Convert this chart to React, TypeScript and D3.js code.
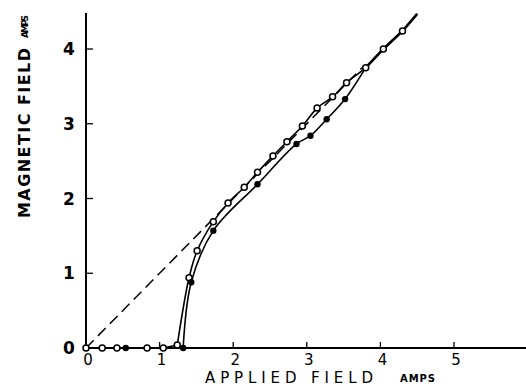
import * as d3 from "d3";

// values (applied field, magnetic field), amps
const openPts: [number, number][] = [
  [0, 0], [0.22, 0], [0.42, 0], [0.83, 0], [1.05, 0], [1.24, 0.04],
  [1.4, 0.94], [1.51, 1.3], [1.73, 1.69], [1.93, 1.94], [2.15, 2.15],
  [2.33, 2.35], [2.54, 2.57], [2.73, 2.76], [2.94, 2.97], [3.14, 3.21],
  [3.35, 3.36], [3.54, 3.55], [3.8, 3.75], [4.04, 4.0], [4.3, 4.24],
];
const openLineEnd: [number, number] = [4.5, 4.47];

const filledPts: [number, number][] = [
  [0.54, 0], [1.32, 0], [1.43, 0.88], [1.73, 1.57], [2.33, 2.19],
  [2.86, 2.73], [3.05, 2.84], [3.27, 3.06], [3.52, 3.33],
];
const filledJoin: [number, number] = [3.8, 3.75];

const dashedRef: [number, number][] = [[0, 0], [3.75, 3.75]];

const xTicks = [1, 2, 3, 4, 5];
const yTicks = [1, 2, 3, 4];

const W = 526;
const H = 388;
const FONT = "DejaVu Sans, Liberation Sans, sans-serif";

export default function App() {
  const x = d3.scaleLinear().domain([0, 5]).range([86, 454]);
  const y = d3.scaleLinear().domain([0, 4]).range([348, 49]);

  const smooth = d3
    .line<[number, number]>()
    .x((d) => x(d[0]))
    .y((d) => y(d[1]))
    .curve(d3.curveCatmullRom.alpha(0.5));
  const straight = d3
    .line<[number, number]>()
    .x((d) => x(d[0]))
    .y((d) => y(d[1]));

  const openLine = [...openPts.slice(5), openLineEnd];
  const filledLine = [...filledPts.slice(1), filledJoin];

  return (
    <svg
      width={W}
      height={H}
      style={{ position: "fixed", left: 0, top: 0, background: "#fff" }}
    >
      {/* axes */}
      <line x1={x(0)} x2={x(0)} y1={y(0)} y2={13} stroke="#000" strokeWidth={2} />
      <line x1={x(0)} x2={W} y1={y(0)} y2={y(0)} stroke="#000" strokeWidth={1.8} />
      {yTicks.map((t) => (
        <line key={"yt" + t} x1={x(0)} x2={x(0) + 7} y1={y(t)} y2={y(t)} stroke="#000" strokeWidth={1.3} />
      ))}
      {xTicks.map((t) => (
        <line key={"xt" + t} x1={x(t)} x2={x(t)} y1={y(0)} y2={y(0) - 6} stroke="#000" strokeWidth={1.3} />
      ))}

      {/* tick labels */}
      <g fontFamily={FONT} fontWeight="bold" fill="#000">
        {[0, ...yTicks].map((t) => (
          <text key={"yl" + t} x={69} y={y(t) + 6} fontSize={17} textAnchor="middle">
            {t}
          </text>
        ))}
        {[0, ...xTicks].map((t) => (
          <text key={"xl" + t} x={x(t) + 2} y={365} fontSize={15} textAnchor="middle" fontWeight="normal">
            {t}
          </text>
        ))}
      </g>

      {/* axis titles */}
      <g fontFamily={FONT} fontWeight="bold" fill="#000">
        <text x={205} y={383} fontSize={15} fontWeight="normal" textLength={168} lengthAdjust="spacing">
          APPLIED  FIELD
        </text>
        <text x={400} y={382} fontSize={10} textLength={35} lengthAdjust="spacing">
          AMPS
        </text>
        <text
          transform={`translate(30,218) rotate(-90)`}
          fontSize={16}
          textLength={170}
          lengthAdjust="spacing"
        >
          MAGNETIC  FIELD
        </text>
        <text transform={`translate(28,38) rotate(-90)`} fontSize={9} textLength={23} lengthAdjust="spacing">
          AMPS
        </text>
      </g>

      {/* reference dashed line */}
      <path d={straight(dashedRef) ?? ""} fill="none" stroke="#000" strokeWidth={1.5} strokeDasharray="11,6" />

      {/* curves */}
      <path d={straight(openPts.slice(0, 6)) ?? ""} fill="none" stroke="#000" strokeWidth={1.4} />
      <path d={straight([openPts[5], filledPts[1]]) ?? ""} fill="none" stroke="#000" strokeWidth={1.4} />
      <path d={smooth(openLine) ?? ""} fill="none" stroke="#000" strokeWidth={1.6} />
      <path d={smooth(filledLine) ?? ""} fill="none" stroke="#000" strokeWidth={1.6} />
      <path d={straight(openPts.slice(-3).concat([openLineEnd])) ?? ""} fill="none" stroke="#000" strokeWidth={2.6} />

      {/* markers */}
      {openPts.map((d, i) => (
        <circle key={"o" + i} cx={x(d[0])} cy={y(d[1])} r={3} fill="#fff" stroke="#000" strokeWidth={1.5} />
      ))}
      {filledPts.map((d, i) => (
        <circle key={"f" + i} cx={x(d[0])} cy={y(d[1])} r={3.2} fill="#000" />
      ))}
    </svg>
  );
}
